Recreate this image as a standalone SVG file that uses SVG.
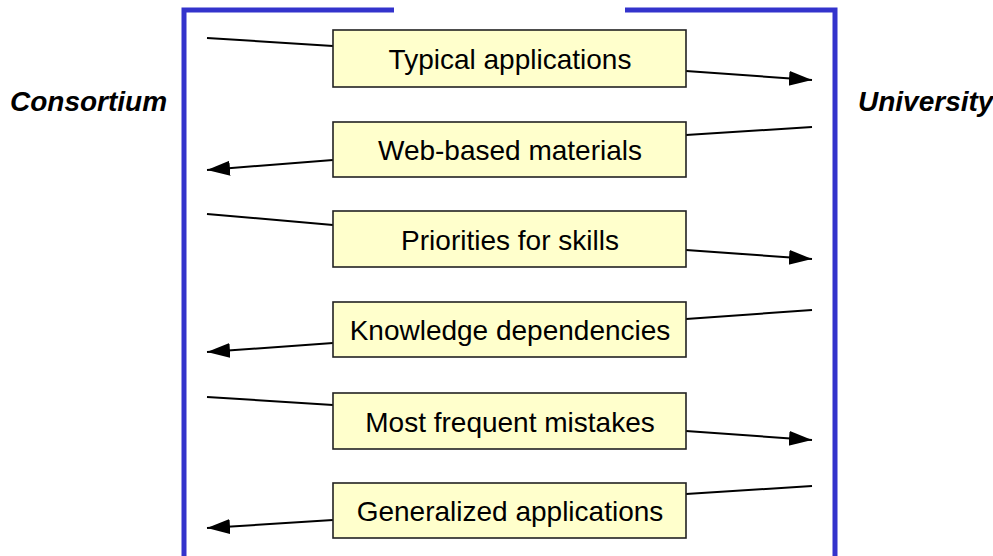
<svg xmlns="http://www.w3.org/2000/svg" width="993" height="556" viewBox="0 0 993 556">
<defs>
<style>
.frame{fill:none;stroke:#3333CC;stroke-width:5}
.box{fill:#FFFFCC;stroke:#222;stroke-width:1.6}
.lbl{font-family:"Liberation Sans",Arial,sans-serif;font-size:28px;fill:#000;text-anchor:middle}
.side{font-family:"Liberation Sans",Arial,sans-serif;font-size:28px;font-weight:bold;font-style:italic;fill:#000}
.ln{stroke:#000;stroke-width:2;fill:none}
.ar{stroke:#000;stroke-width:2;fill:none;marker-end:url(#ah)}
</style>
<marker id="ah" markerWidth="26" markerHeight="16" refX="23" refY="7.5" orient="auto" markerUnits="userSpaceOnUse">
<path d="M0,0 L23,7.5 L0,15 z" fill="#000"/>
</marker>
</defs>
<g id="frame">
<path class="frame" d="M394,10 H184 V556"/>
<path class="frame" d="M625,10 H835 V556"/>
</g>
<text class="side" x="10" y="111">Consortium</text>
<text class="side" x="858" y="111">University</text>
<g id="connectors">
<line class="ln" x1="207" y1="38" x2="333" y2="46"/>
<line class="ar" x1="686" y1="71" x2="812" y2="80"/>
<line class="ln" x1="686" y1="135" x2="812" y2="127"/>
<line class="ar" x1="333" y1="160" x2="207" y2="170"/>
<line class="ln" x1="207" y1="214" x2="333" y2="225"/>
<line class="ar" x1="686" y1="250" x2="812" y2="259"/>
<line class="ln" x1="686" y1="319" x2="812" y2="310"/>
<line class="ar" x1="333" y1="343" x2="207" y2="352"/>
<line class="ln" x1="207" y1="397" x2="333" y2="405"/>
<line class="ar" x1="686" y1="431" x2="812" y2="440"/>
<line class="ln" x1="686" y1="494" x2="812" y2="486"/>
<line class="ar" x1="333" y1="520" x2="207" y2="528"/>
</g>
<g id="n1"><rect class="box" x="333" y="30" width="353" height="57"/><text class="lbl" x="510" y="69">Typical applications</text></g>
<g id="n2"><rect class="box" x="333" y="122" width="353" height="55"/><text class="lbl" x="510" y="160">Web-based materials</text></g>
<g id="n3"><rect class="box" x="333" y="211" width="353" height="56"/><text class="lbl" x="510" y="250">Priorities for skills</text></g>
<g id="n4"><rect class="box" x="333" y="302" width="353" height="55"/><text class="lbl" x="510" y="340">Knowledge dependencies</text></g>
<g id="n5"><rect class="box" x="333" y="393" width="353" height="56"/><text class="lbl" x="510" y="432">Most frequent mistakes</text></g>
<g id="n6"><rect class="box" x="333" y="483" width="353" height="55"/><text class="lbl" x="510" y="521">Generalized applications</text></g>
</svg>
